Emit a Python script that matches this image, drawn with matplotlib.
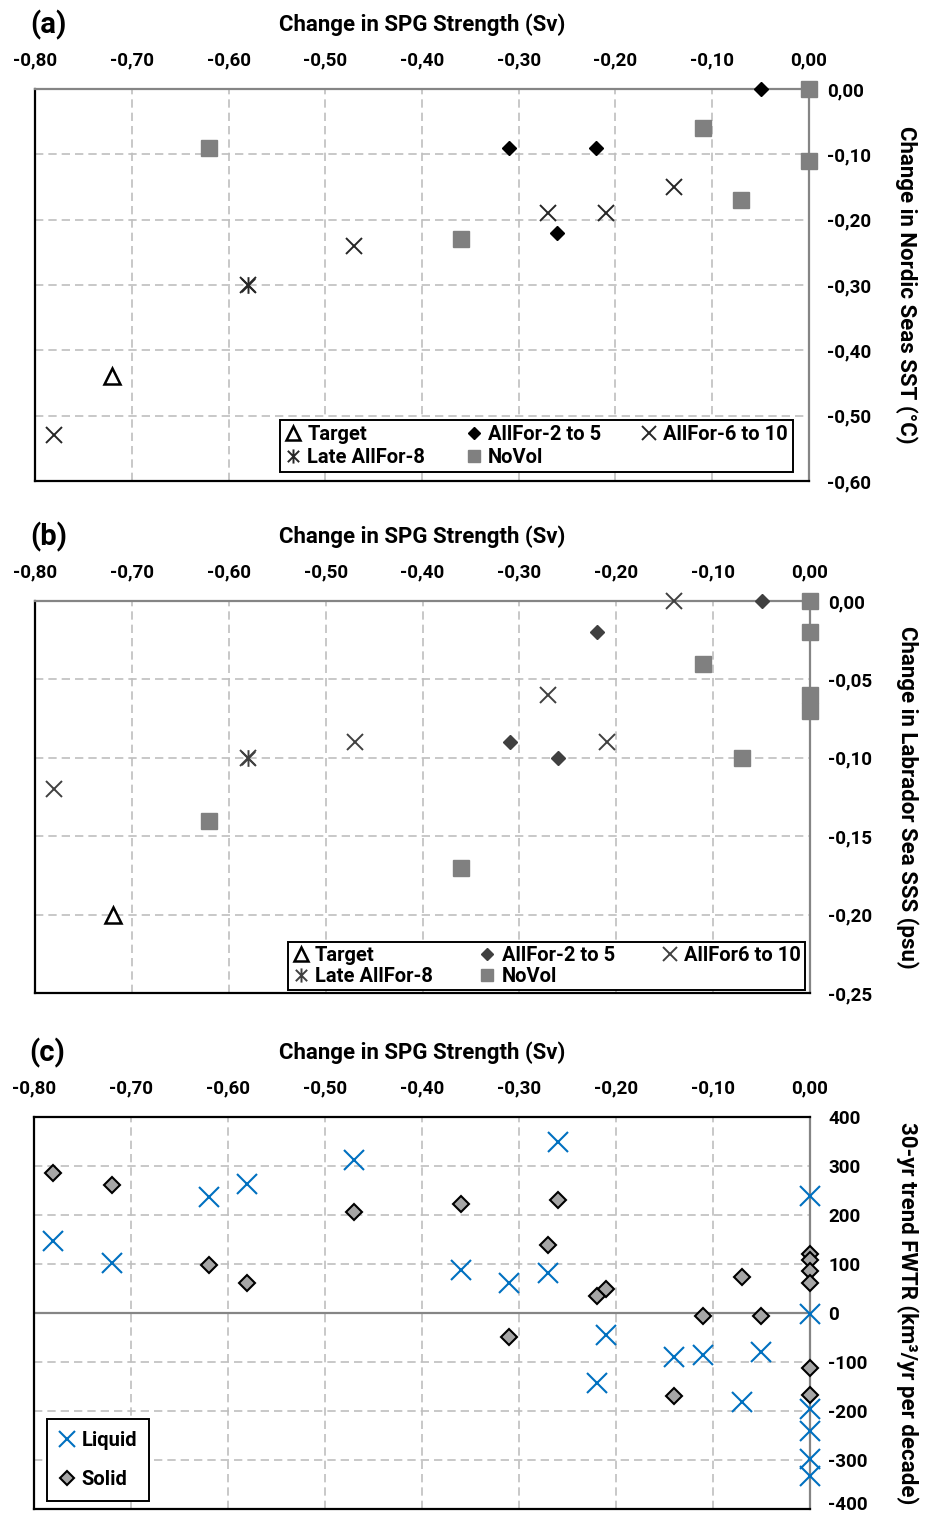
import numpy as np
import matplotlib
matplotlib.use("Agg")
import matplotlib.pyplot as plt
from matplotlib.path import Path
from matplotlib.ticker import FuncFormatter
from matplotlib.transforms import ScaledTranslation

plt.rcParams['font.family'] = ['Roboto', 'DejaVu Sans']
plt.rcParams['font.weight'] = 'bold'

# ---- panel (a): Nordic Seas SST ----
a_target_x = [-0.72]
a_target_y = [-0.44]
a_af25_x = [-0.05, -0.31, -0.22, -0.26]
a_af25_y = [0.00, -0.09, -0.09, -0.22]
a_af610_x = [-0.78, -0.58, -0.47, -0.27, -0.21, -0.14]
a_af610_y = [-0.53, -0.30, -0.24, -0.19, -0.19, -0.15]
a_late_x = [-0.58]
a_late_y = [-0.30]
a_novol_x = [-0.62, -0.36, -0.11, -0.07, 0.00, 0.00]
a_novol_y = [-0.09, -0.23, -0.06, -0.17, 0.00, -0.11]

# ---- panel (b): Labrador Sea SSS ----
b_target_x = [-0.72]
b_target_y = [-0.20]
b_af25_x = [-0.05, -0.22, -0.31, -0.26]
b_af25_y = [0.00, -0.02, -0.09, -0.10]
b_af610_x = [-0.78, -0.58, -0.47, -0.27, -0.21, -0.14]
b_af610_y = [-0.12, -0.10, -0.09, -0.06, -0.09, 0.00]
b_late_x = [-0.58]
b_late_y = [-0.10]
b_novol_x = [-0.62, -0.36, -0.11, -0.07, 0.00, 0.00, 0.00, 0.00]
b_novol_y = [-0.14, -0.17, -0.04, -0.10, 0.00, -0.02, -0.06, -0.07]

# ---- panel (c): FWTR trends ----
c_liq_x = [-0.78, -0.72, -0.62, -0.58, -0.47, -0.36, -0.31, -0.27, -0.26, -0.22, -0.21,
           -0.14, -0.11, -0.07, -0.05, 0.00, 0.00, 0.00, 0.00, 0.00, 0.00]
c_liq_y = [147, 103, 236, 264, 313, 88, 62, 82, 348, -142, -45,
           -89, -85, -182, -79, 238, -2, -195, -240, -298, -332]
c_sol_x = [-0.78, -0.72, -0.62, -0.58, -0.47, -0.36, -0.31, -0.27, -0.26, -0.22, -0.21,
           -0.14, -0.11, -0.07, -0.05, 0.00, 0.00, 0.00, 0.00, 0.00, 0.00]
c_sol_y = [285, 262, 97, 62, 206, 223, -49, 138, 230, 35, 50,
           -169, -6, 73, -7, 120, 109, 86, 61, -113, -168]

x_ticks = [-0.8, -0.7, -0.6, -0.5, -0.4, -0.3, -0.2, -0.1, 0.0]
a_yticks = [0.0, -0.1, -0.2, -0.3, -0.4, -0.5, -0.6]
b_yticks = [0.0, -0.05, -0.10, -0.15, -0.20, -0.25]
c_yticks = [400, 300, 200, 100, 0, -100, -200, -300, -400]

# excel-like asterisk: x plus vertical bar
asterisk = Path([(-1, -1), (1, 1), (-1, 1), (1, -1), (0, -1.25), (0, 1.25)],
                [Path.MOVETO, Path.LINETO, Path.MOVETO, Path.LINETO, Path.MOVETO, Path.LINETO])

comma2 = FuncFormatter(lambda v, p: ("%.2f" % v).replace('.', ',').replace('-0,00', '0,00'))
comma0 = FuncFormatter(lambda v, p: "%d" % round(v))

W, H = 928, 1517
fig = plt.figure(figsize=(W / 100, H / 100), dpi=100)

def make_axes(left, top, right, bottom):
    return fig.add_axes([left / W, 1 - bottom / H, (right - left) / W, (bottom - top) / H])

def style(ax, ylim, yticks, yfmt, ylabel, tag, zero_line=False):
    ax.set_xlim(-0.8, 0.0)
    ax.set_ylim(*ylim)
    ax.set_xticks(x_ticks)
    ax.set_yticks(yticks)
    ax.xaxis.set_major_formatter(comma2)
    ax.yaxis.set_major_formatter(yfmt)
    ax.xaxis.tick_top()
    ax.yaxis.tick_right()
    ax.tick_params(length=0, labelsize=13.5, pad=13)
    ax.tick_params(axis='x', pad=14)
    for lab in ax.get_xticklabels() + ax.get_yticklabels():
        lab.set_fontweight('bold')
    ax.grid(True, color='#BFBFBF', linestyle=(0, (5, 3)), linewidth=1.2)
    ax.set_axisbelow(True)
    for s in ['left', 'bottom']:
        ax.spines[s].set_color('black')
        ax.spines[s].set_linewidth(1.6)
    ax.spines['right'].set_color('#858585')
    ax.spines['right'].set_linewidth(1.6)
    if zero_line:
        ax.spines['top'].set_color('black')
        ax.spines['top'].set_linewidth(1.6)
        ax.axhline(0, color='#858585', linewidth=1.6, zorder=1.5)
    else:
        ax.spines['top'].set_color('#858585')
        ax.spines['top'].set_linewidth(1.6)
    ax.xaxis.set_label_position('top')
    ax.set_xlabel('Change in SPG Strength (Sv)', fontsize=16, fontweight='bold', labelpad=15)
    ax.text(1.126, 0.5, ylabel, transform=ax.transAxes, rotation=270,
            ha='center', va='center', fontsize=16, fontweight='bold')
    ax.annotate(tag, xy=(0, 1), xycoords='axes fraction', xytext=(-5, 64),
                textcoords='offset pixels', ha='left', va='center',
                fontsize=21, fontweight='bold')

def draw_runs(ax, tx, ty, dx, dy, xx, xy, lx, ly, nx, ny, dcol, xcol, lab610):
    h_t, = ax.plot(tx, ty, '^', ms=12, mfc='white', mec='black', mew=1.8, ls='none',
                   clip_on=False, zorder=3, label='Target')
    h_d, = ax.plot(dx, dy, 'D', ms=7.5, color=dcol, ls='none', clip_on=False, zorder=3,
                   label='AllFor-2 to 5')
    h_x, = ax.plot(xx, xy, 'x', ms=12, mew=1.4, color=xcol, ls='none', clip_on=False,
                   zorder=3, label=lab610)
    h_l, = ax.plot(lx, ly, marker=asterisk, ms=12, mew=1.4, color=xcol, ls='none',
                   clip_on=False, zorder=3, label='Late AllFor-8')
    h_n, = ax.plot(nx, ny, 's', ms=11, color='#808080', ls='none', clip_on=False,
                   zorder=3, label='NoVol')
    return [h_t, h_l, h_d, h_n, h_x]

leg_kw = dict(fancybox=False, edgecolor='black', framealpha=1, handlelength=0.8,
              handletextpad=0.3, markerscale=0.85, prop={'weight': 'bold', 'size': 14.5})

# (a)
ax_a = make_axes(35, 89, 809, 481)
style(ax_a, (-0.6, 0.0), a_yticks, comma2, 'Change in Nordic Seas SST (°C)', '(a)')
hs = draw_runs(ax_a, a_target_x, a_target_y, a_af25_x, a_af25_y, a_af610_x, a_af610_y,
               a_late_x, a_late_y, a_novol_x, a_novol_y, 'black', '#262626', 'AllFor-6 to 10')
leg = ax_a.legend(handles=hs, ncol=3, loc='lower left', mode='expand',
                  bbox_to_anchor=(0.3165, 0.023, 0.663, 0.145), borderaxespad=0,
                  labelspacing=0.2, borderpad=0.25, **leg_kw)
leg.get_frame().set_linewidth(1.4)

# (b)
ax_b = make_axes(35, 601, 810, 993)
style(ax_b, (-0.25, 0.0), b_yticks, comma2, 'Change in Labrador Sea SSS (psu)', '(b)')
hs = draw_runs(ax_b, b_target_x, b_target_y, b_af25_x, b_af25_y, b_af610_x, b_af610_y,
               b_late_x, b_late_y, b_novol_x, b_novol_y, '#404040', '#404040', 'AllFor6 to 10')
leg = ax_b.legend(handles=hs, ncol=3, loc='lower left', mode='expand',
                  bbox_to_anchor=(0.327, 0.008, 0.666, 0.14), borderaxespad=0,
                  labelspacing=0.1, borderpad=0.2, **leg_kw)
leg.get_frame().set_linewidth(1.4)

# (c)
ax_c = make_axes(34, 1117, 810, 1509)
style(ax_c, (-400, 400), c_yticks, comma0, '30-yr trend FWTR (km³/yr per decade)', '(c)',
      zero_line=True)
h_liq, = ax_c.plot(c_liq_x, c_liq_y, 'x', ms=14, mew=1.5, color='#0070C0', ls='none',
                   clip_on=False, zorder=4, label='Liquid')
h_sol, = ax_c.plot(c_sol_x, c_sol_y, 'D', ms=8, mfc='#A6A6A6', mec='black', mew=1.5,
                   ls='none', clip_on=False, zorder=3, label='Solid')
leg = ax_c.legend(handles=[h_liq, h_sol], loc='lower left', bbox_to_anchor=(0.017, 0.02),
                  borderaxespad=0, labelspacing=1.0, borderpad=0.6, **leg_kw)
leg.get_frame().set_linewidth(1.4)

# keep the bottom "-400" label inside the canvas
fig.canvas.draw()
last = ax_c.get_yticklabels()[-1]
last.set_transform(last.get_transform() + ScaledTranslation(0, 4 / 72, fig.dpi_scale_trans))

fig.savefig('out.png', dpi=100)
